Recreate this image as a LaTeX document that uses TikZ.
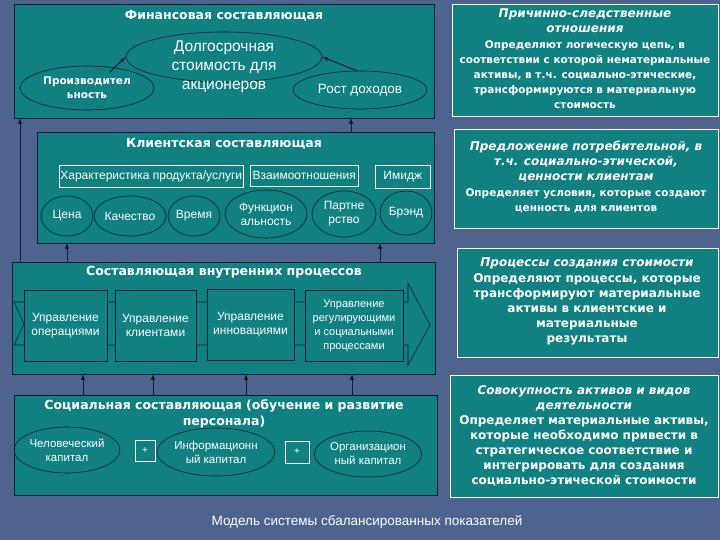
\documentclass[tikz,border=0pt]{standalone}
\usepackage{fontspec}
\setmainfont{Liberation Sans}
\newfontfamily\dv{DejaVu Sans}
\usetikzlibrary{shapes.geometric}
\definecolor{bg}{RGB}{78,100,142}
\definecolor{tl}{RGB}{16,128,128}
\definecolor{ln}{RGB}{10,30,50}
\begin{document}
\begin{tikzpicture}[x=1pt,y=-1pt,
  panel/.style={draw=ln,fill=tl,line width=0.8pt},
  rpanel/.style={draw=white,fill=tl,line width=0.8pt},
  ell/.style={ellipse,draw=ln,line width=0.6pt,inner sep=0pt,text=white,align=center,font=\fontsize{12}{14}\selectfont},
  rbox/.style={draw=white,line width=0.5pt,text=white,font=\fontsize{12}{13}\selectfont,anchor=west,inner sep=0pt},
  pbox/.style={draw=ln,fill=tl,line width=0.6pt,text=white,align=center,font=\fontsize{12}{14}\selectfont},
  ttl/.style={text=white,font=\dv\bfseries\fontsize{12.5}{16}\selectfont,align=center},
  rtxt/.style={text=white,align=center,font=\dv\bfseries\fontsize{12}{15}\selectfont},
  arr/.style={-latex,line width=1pt,draw=ln}]
\fill[bg] (0,0) rectangle (720,540);
\useasboundingbox (0,0) rectangle (720,540);
% Finance
\draw[panel] (14,4) rectangle (434,118);
\node[ttl] (ft) at (224,16) {Финансовая составляющая};
\node[ell,minimum width=196,minimum height=50] (dol) at (224,57) {};
\node[text=white,align=center,font=\fontsize{15.5}{19}\selectfont] (doltxt) at (224,67) {Долгосрочная\\стоимость для\\акционеров};
\node[ell,minimum width=134,minimum height=44,font=\dv\bfseries\fontsize{10.5}{14}\selectfont] (pro) at (87,88) {Производител\\ьность};
\node[ell,minimum width=134,minimum height=38,font=\fontsize{13.5}{15}\selectfont] (rost) at (360,90) {Рост доходов};
\draw[arr] (pro.north east)++(-25,0) -- (dol.west);
\draw[arr] (rost.north)++(-3,0) -- (dol.east);
% Client
\draw[panel] (37,132) rectangle (434,243);
\node[ttl] (ct) at (224,144) {Клиентская составляющая};
\node[rbox,minimum width=184,minimum height=22] (har) at (59,176) {Характеристика продукта/услуги};
\node[rbox,minimum width=108,minimum height=21] (vz) at (250,175.5) {Взаимоотношения};
\node[rbox,minimum width=55,minimum height=23] (im) at (375,176.5) {Имидж};
\node[ell,minimum width=52,minimum height=40] (c1) at (67,216) {Цена};
\node[ell,minimum width=72,minimum height=40] (c2) at (130,216) {Качество};
\node[ell,minimum width=52,minimum height=40] (c3) at (194,216) {Время};
\node[ell,minimum width=82,minimum height=48] (c4) at (266,214) {Функцион\\альность};
\node[ell,minimum width=64,minimum height=46] (c5) at (344,214) {Партне\\рство};
\node[ell,minimum width=52,minimum height=44] (c6) at (406,213) {Брэнд};
% Internal
\draw[panel] (12,262) rectangle (435,374);
\node[ttl] (it) at (224,272) {Составляющая внутренних процессов};
\draw[draw=ln,fill=tl,line width=0.6pt] (14,302)--(408,302)--(408,283)--(430,325)--(408,365)--(408,345)--(14,345)--(24,324)--cycle;
\node[pbox,minimum width=83,minimum height=71] (p1) at (65.5,325.5) {Управление\\операциями};
\node[pbox,minimum width=81,minimum height=71] (p2) at (155.5,325.5) {Управление\\клиентами};
\node[pbox,minimum width=87,minimum height=71] (p3) at (250.5,324.5) {Управление\\инновациями};
\node[pbox,minimum width=98,minimum height=71,font=\fontsize{11}{14}\selectfont] (p4) at (354,325.5) {Управление\\регулирующими\\и социальными\\процессами};
% Social
\draw[panel] (14,395) rectangle (437,495);
\node[ttl] (st) at (224,414) {Социальная составляющая (обучение и развитие\\персонала)};
\node[ell,minimum width=104,minimum height=46,font=\fontsize{11.5}{14}\selectfont] (s1) at (67,450) {Человеческий\\капитал};
\node[draw=white,line width=0.5pt,minimum width=20,minimum height=21,text=white,inner sep=0pt] (pl1) at (145,450.5) {+};
\node[ell,minimum width=114,minimum height=48,font=\fontsize{11.5}{14}\selectfont] (s2) at (216,452) {Информационн\\ый капитал};
\node[draw=white,line width=0.5pt,minimum width=24,minimum height=22,text=white,inner sep=0pt] (pl2) at (297,452) {+};
\node[ell,minimum width=104,minimum height=46,font=\fontsize{11.5}{14}\selectfont] (s3) at (368,454) {Организацион\\ный капитал};
% connectors
\coordinate (a1) at (20,262); \coordinate (a1e) at (20,118);
\draw[arr] (a1) -- (a1e);
\coordinate (b1) at (351,132); \coordinate (b1e) at (351,118);
\draw[arr] (b1) -- (b1e);
\foreach \x/\n in {67/c,380/d}{
  \coordinate (\n s) at (\x,262); \coordinate (\n e) at (\x,243);
  \draw[arr] (\n s) -- (\n e);}
\foreach \x/\n in {83/e,153/f,246/g,352/h}{
  \coordinate (\n s) at (\x,395); \coordinate (\n e) at (\x,374);
  \draw[arr] (\n s) -- (\n e);}
% Right panels
\draw[rpanel] (452,4) rectangle (718,116);
\node[rtxt] (r1) at (585,59) {\itshape Причинно-следственные\\\itshape отношения\\[1pt]
\fontsize{10.5}{13.5}\selectfont Определяют логическую цепь, в\\\fontsize{10.5}{13.5}\selectfont соответствии с которой нематериальные\\\fontsize{10.5}{13.5}\selectfont активы, в т.ч. социально-этические,\\\fontsize{10.5}{13.5}\selectfont трансформируются в материальную\\\fontsize{10.5}{13.5}\selectfont стоимость};
\draw[rpanel] (454,129) rectangle (718,228);
\node[rtxt] (r2) at (586,177) {\itshape Предложение потребительной, в\\\itshape т.ч. социально-этической,\\\itshape ценности клиентам\\[1pt]
\fontsize{10.5}{13}\selectfont Определяет условия, которые создают\\\fontsize{10.5}{13}\selectfont ценность для клиентов};
\draw[rpanel] (457,248) rectangle (718,357);
\node[rtxt] (r3) at (587,301) {\itshape Процессы создания стоимости\\[1pt]
Определяют процессы, которые\\трансформируют материальные\\активы в клиентские и\\материальные\\результаты};
\draw[rpanel] (450,375) rectangle (718,497);
\node[rtxt] (r4) at (584,436) {\itshape Совокупность активов и видов\\\itshape деятельности\\
Определяет материальные активы,\\которые необходимо привести в\\стратегическое соответствие и\\интегрировать для создания\\социально-этической стоимости};
\node[text=white,font=\fontsize{13.5}{15}\selectfont] (cap) at (367,522) {Модель системы сбалансированных показателей};
\end{tikzpicture}
\end{document}
